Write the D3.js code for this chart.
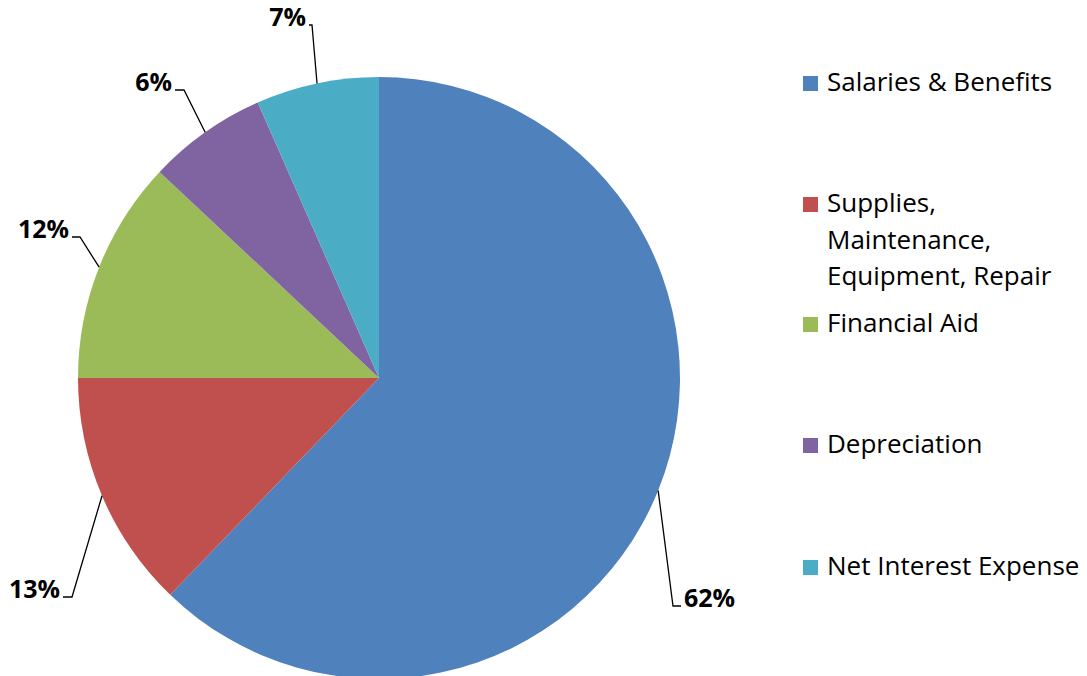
<!DOCTYPE html>
<html><head><meta charset="utf-8">
<script src="https://cdn.jsdelivr.net/npm/d3@7"></script>
<style>html,body{margin:0;padding:0;background:#fff;}svg{display:block;}</style>
</head><body>
<svg id="chart" width="1087" height="676"></svg>
<script>
// ---- data ----
const categories = ["Salaries & Benefits", "Supplies, Maintenance, Equipment, Repair", "Financial Aid", "Depreciation", "Net Interest Expense"];
const legendLines = [["Salaries & Benefits"], ["Supplies,", "Maintenance,", "Equipment, Repair"], ["Financial Aid"], ["Depreciation"], ["Net Interest Expense"]];
const values = [62.2, 12.8, 12.0, 6.4, 6.6];
const colors = ["#4F81BD", "#C0504D", "#9BBB59", "#8064A2", "#4BACC6"];

// ---- layout ----
const cx = 379, cy = 378, R = 301;
// label elbow points: [elbowX, elbowY, tailX, side]
const labelLayout = [
  [673, 606, 681, 1],
  [72, 597, 63, -1],
  [80, 237, 72, -1],
  [184, 90, 175, -1],
  [312, 25, 309, -1]
];
const legendSquareY = [76, 197, 317, 438, 560];
const FONT = "'Open Sans', Lato, sans-serif";

const svg = d3.select("#chart");
const g = svg.append("g").attr("transform", `translate(${cx},${cy})`);
const total = d3.sum(values);
const pie = d3.pie().sort(null).value(d => d)(values);
const arc = d3.arc().innerRadius(0).outerRadius(R);

g.selectAll("path.slice").data(pie).join("path")
  .attr("class", "slice")
  .attr("d", arc)
  .attr("fill", (d, i) => colors[i]);

// leader lines + labels
pie.forEach((d, i) => {
  const mid = (d.startAngle + d.endAngle) / 2;
  const sx = cx + R * Math.sin(mid), sy = cy - R * Math.cos(mid);
  const [ex, ey, tx, side] = labelLayout[i];
  svg.append("polyline")
    .attr("points", `${sx},${sy} ${ex},${ey} ${tx},${ey}`)
    .attr("fill", "none").attr("stroke", "#000").attr("stroke-width", 1.3);
  svg.append("text")
    .attr("x", side > 0 ? tx + 3 : tx - 3)
    .attr("y", ey + 1)
    .attr("text-anchor", side > 0 ? "start" : "end")
    .attr("font-family", FONT)
    .attr("font-weight", "bold")
    .attr("font-size", 25)
    .attr("fill", "#000")
    .text(Math.round(d.value / total * 100) + "%");
});

// legend
const leg = svg.append("g");
legendLines.forEach((lines, i) => {
  const y0 = legendSquareY[i];
  leg.append("rect").attr("x", 803).attr("y", y0).attr("width", 15).attr("height", 15).attr("fill", colors[i]);
  lines.forEach((ln, j) => {
    leg.append("text")
      .attr("x", 827).attr("y", y0 + 15 + j * 36.5)
      .attr("font-family", FONT)
      .attr("font-size", 26)
      .attr("fill", "#000")
      .text(ln);
  });
});
</script>
</body></html>
